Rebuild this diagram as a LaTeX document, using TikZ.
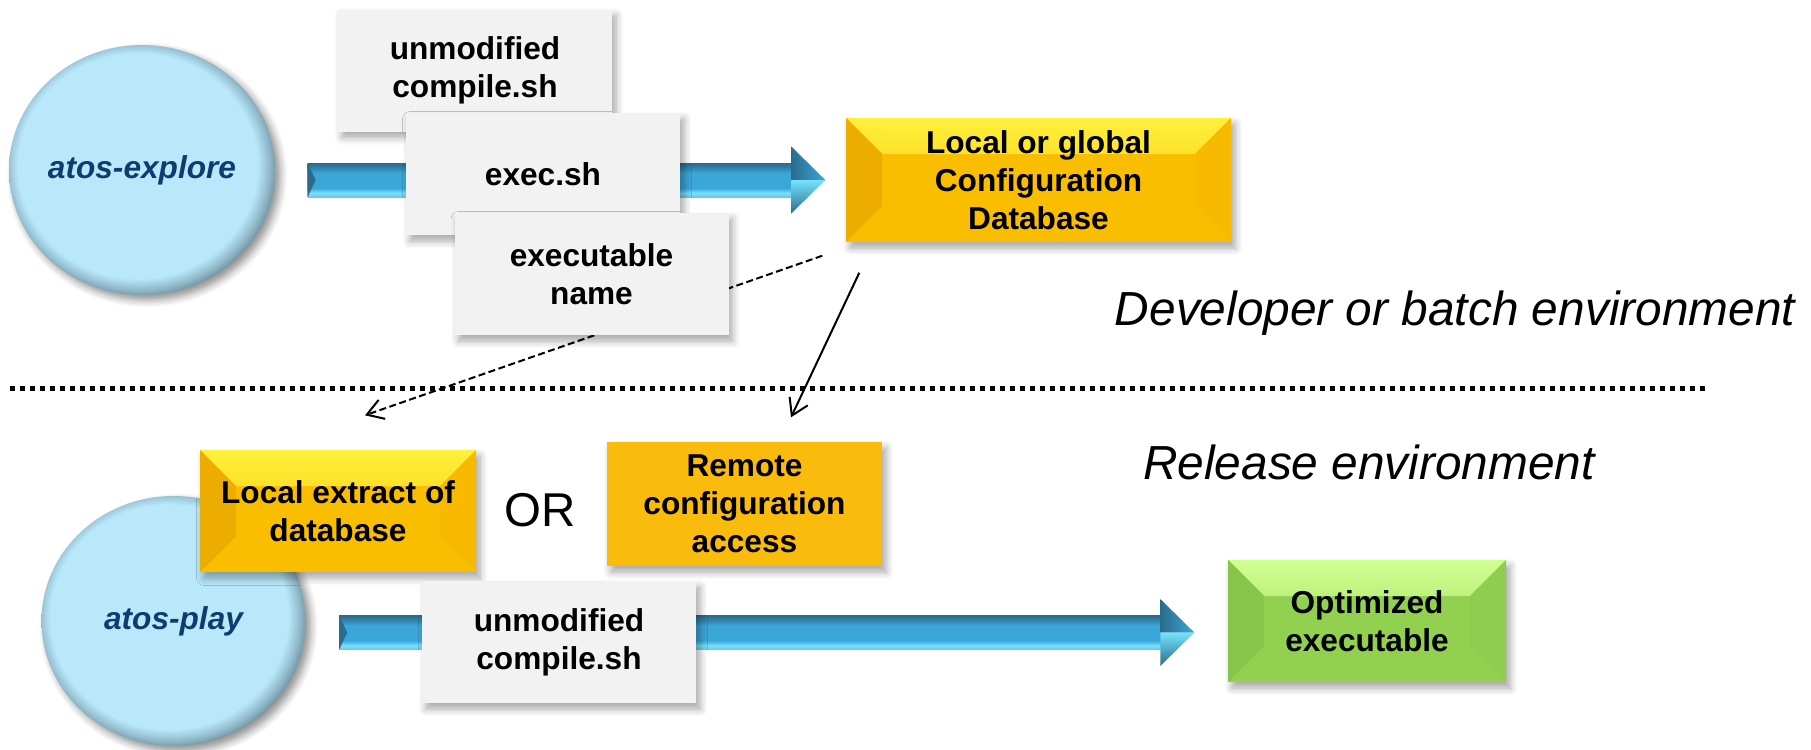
\documentclass[tikz,border=0pt]{standalone}
\usepackage{fontspec}
\setmainfont{Liberation Sans}
\setsansfont{Liberation Sans}
\usetikzlibrary{shapes.geometric, shadows, shadows.blur, arrows.meta, calc, backgrounds}

\definecolor{orbfill}{HTML}{B9E8FB}
\definecolor{orbedge}{HTML}{5E7F8C}
\definecolor{orbtext}{HTML}{0F3C6E}
\definecolor{paper}{HTML}{F2F2F2}
\definecolor{goldmain}{HTML}{F9BE00}
\definecolor{goldlight}{HTML}{FFF03C}
\definecolor{golddark}{HTML}{EDAD00}
\definecolor{goldside}{HTML}{F7BA00}
\definecolor{goldflat}{HTML}{F9BB0C}
\definecolor{greenmain}{HTML}{92D050}
\definecolor{greenlight}{HTML}{D0FF92}
\definecolor{greendark}{HTML}{86C44A}
\definecolor{greenside}{HTML}{8ECD4D}
\definecolor{pipedark}{HTML}{2A6C8C}
\definecolor{pipemid}{HTML}{3BA7D9}
\definecolor{pipelight}{HTML}{74E3FF}

% only the band 25bp..75bp ends up on the path
\pgfdeclareverticalshading{pipe}{100bp}{color(0bp)=(pipemid!70!white); color(25bp)=(pipemid!70!white); color(31bp)=(pipelight); color(38bp)=(pipemid); color(60bp)=(pipemid); color(68bp)=(pipedark!60!pipemid); color(75bp)=(pipedark); color(100bp)=(pipedark)}
% flat disc with a darker rim towards the lower right
\pgfdeclareradialshading{orbrim}{\pgfpoint{-1.5bp}{1.5bp}}{color(0bp)=(orbfill); color(22.5bp)=(orbfill); color(24.5bp)=(orbfill!60!orbedge); color(27bp)=(orbedge); color(50bp)=(orbedge)}

% shaded block arrow from #1 to the tip #2 (same height)
\newcommand{\pipearrow}[2]{%
  \shade[shading=pipe] let \p1=(#1), \p2=(#2) in
    (\x1,\y1-\pipeW) rectangle (\x2-\headL,\y1+\pipeW);
  \shade[left color=pipedark, right color=pipemid] let \p1=(#1), \p2=(#2) in
    (\x2-\headL,\y1+\headW) -- (\x2,\y1) -- (\x2-\headL,\y1) -- cycle;
  \shade[top color=pipelight, bottom color=pipedark] let \p1=(#1), \p2=(#2) in
    (\x2-\headL,\y1) -- (\x2,\y1) -- (\x2-\headL,\y1-\headW) -- cycle;
  \fill[pipedark] let \p1=(#1) in
    (\x1,\y1+\pipeW) -- (\x1+0.08cm,\y1) -- (\x1,\y1-\pipeW) -- cycle;
}

\begin{document}
\begin{tikzpicture}[
    every node/.style={font=\sffamily},
    >={Straight Barb[length=0.16cm, width=0.2cm]},
    boxfont/.style={font=\sffamily\bfseries\fontsize{9}{10.8}\selectfont},
    softshadow/.style={blur shadow={shadow xshift=0.04cm, shadow yshift=-0.06cm, shadow blur steps=6, shadow opacity=35}},
    orb/.style={ellipse, shade, shading=orbrim, minimum width=2.64cm, minimum height=2.5cm,
        inner sep=0pt, text=orbtext, font=\sffamily\bfseries\itshape\fontsize{9}{10.8}\selectfont,
        blur shadow={shadow xshift=0.05cm, shadow yshift=-0.05cm, shadow blur steps=6, shadow opacity=45}},
    filebox/.style={boxfont, rectangle, fill=paper, minimum width=2.74cm, minimum height=1.22cm,
        align=center, inner sep=0pt, softshadow},
    bevel/.style n args={4}{% main, top, left, right
        fill=#1,
        path picture={
            \shade[top color=#2, bottom color=#1]
                (path picture bounding box.north west) -- (path picture bounding box.north east)
                -- ([shift={(-\bev,-\bev)}]path picture bounding box.north east)
                -- ([shift={(\bev,-\bev)}]path picture bounding box.north west) -- cycle;
            \fill[#3]
                (path picture bounding box.north west) -- ([shift={(\bev,-\bev)}]path picture bounding box.north west)
                -- ([shift={(\bev,\bev)}]path picture bounding box.south west)
                -- (path picture bounding box.south west) -- cycle;
            \fill[#4]
                (path picture bounding box.north east) -- ([shift={(-\bev,-\bev)}]path picture bounding box.north east)
                -- ([shift={(-\bev,\bev)}]path picture bounding box.south east)
                -- (path picture bounding box.south east) -- cycle;
        }},
    dbbox/.style={boxfont, rectangle, bevel={goldmain}{goldlight}{golddark}{goldside},
        minimum width=2.76cm, minimum height=1.22cm, align=center, inner sep=0pt, softshadow},
    remotebox/.style={boxfont, rectangle, fill=goldflat, minimum width=2.75cm, minimum height=1.24cm,
        align=center, inner sep=0pt, softshadow},
    optbox/.style={boxfont, rectangle, bevel={greenmain}{greenlight}{greendark}{greenside},
        minimum width=2.78cm, minimum height=1.22cm, align=center, inner sep=0pt, softshadow},
    envlabel/.style={font=\sffamily\itshape\fontsize{13.6}{16}\selectfont},
    fetch/.style={->, line width=0.02cm},
]

\def\bev{0.36cm}    % bevel depth of the shaded boxes
\def\pipeW{0.17cm}  % half thickness of a block arrow
\def\headW{0.335cm} % half height of its head
\def\headL{0.34cm}  % length of its head

\useasboundingbox (0,0) rectangle (18.11,7.49);

% === Developer side ===
\node[filebox] (compsh) at (4.75,6.785) {unmodified\\compile.sh};
\node[filebox] (execsh) at (5.43,5.75) {exec.sh};
\node[filebox] (exename) at (5.915,4.75) {executable\\name};
\node[orb] (explore) at (1.42,5.79) {atos-explore};
\node[dbbox, minimum width=3.85cm, minimum height=1.24cm] (cfgdb) at (10.385,5.69)
    {Local or global\\Configuration\\Database};
\node[envlabel] (devenv) at (14.55,4.36) {Developer or batch environment};

% dotted separator
\draw[line width=0.05cm, dash pattern=on 0.05cm off 0.05cm] (0.10,3.61) -- (17.10,3.61);

% === Release side ===
\node[envlabel] (relenv) at (13.69,2.87) {Release environment};
\node[orb] (play) at (1.735,1.28) {atos-play};
\node[dbbox] (localdb) at (3.38,2.38) {Local extract of\\database};
\node[font=\sffamily\fontsize{13.5}{16}\selectfont] (or) at (5.40,2.39) {OR};
\node[remotebox] (remote) at (7.445,2.45) {Remote\\configuration\\access};
\node[filebox] (compsh2) at (5.59,1.07) {unmodified\\compile.sh};
\node[optbox] (optexe) at (13.67,1.28) {Optimized\\executable};

% === Connectors (behind the boxes) ===
\begin{scope}[on background layer]
    \coordinate (pipeAs) at ($(explore.east |- cfgdb.west)+(0.32,0)$);
    \coordinate (pipeAe) at ($(cfgdb.west)+(-0.20,0)$);
    \pipearrow{pipeAs}{pipeAe}

    \coordinate (pipeBs) at ($(play.east)+(0.33,-0.115)$);
    \coordinate (pipeBe) at ($(optexe.west |- pipeBs)+(-0.33,0)$);
    \pipearrow{pipeBs}{pipeBe}

    % extract / remote access of the database
    \coordinate (dbout) at ($(cfgdb.south west)+(-0.23,-0.13)$);
    \coordinate (localin) at ($(localdb.north)+(0.27,0.34)$);
    \draw[fetch, dash pattern=on 0.07cm off 0.035cm] (dbout) -- (localin);

    \coordinate (dbpush) at ($(cfgdb.south west)+(0.14,-0.30)$);
    \coordinate (remotein) at ($(remote.north)+(0.465,0.24)$);
    \draw[fetch] (dbpush) -- (remotein);
\end{scope}

\end{tikzpicture}
\end{document}
